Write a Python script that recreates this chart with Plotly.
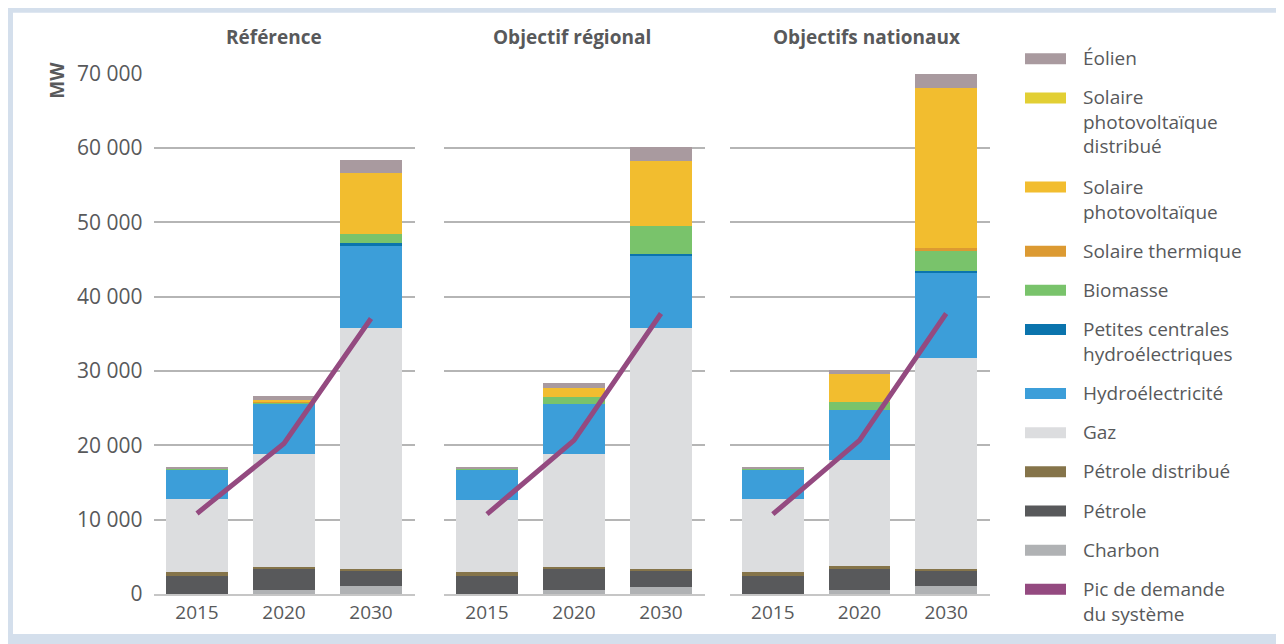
import plotly.graph_objects as go

years = ["2015", "2020", "2030"]
scenarios = ["Référence", "Objectif régional", "Objectifs nationaux"]

# MW par scénario (Référence, Objectif régional, Objectifs nationaux) x années
charbon = [[0, 540, 1075], [0, 540, 940], [0, 540, 1075]]
petrole = [[2420, 2820, 2145], [2420, 2820, 2280], [2420, 2820, 2145]]
petrole_distribue = [[540, 270, 180], [540, 270, 180], [540, 400, 180]]
gaz = [[9810, 15180, 32380], [9670, 15180, 32380], [9810, 14240, 28350]]
hydro = [[4030, 6720, 11110], [4170, 6720, 9670], [4030, 6720, 11420]]
petites_centrales = [[0, 0, 400], [0, 0, 360], [0, 0, 360]]
biomasse = [[130, 270, 1210], [130, 940, 3770], [130, 1080, 2690]]
solaire_thermique = [[0, 150, 0], [0, 0, 0], [0, 0, 360]]
solaire_pv = [[0, 200, 8200], [0, 1210, 8730], [0, 3760, 21500]]
solaire_pv_distribue = [[0, 0, 0], [0, 0, 0], [0, 0, 0]]
eolien = [[140, 450, 1740], [130, 670, 1790], [140, 540, 1880]]
pic_demande = [[10850, 20260, 37080], [10750, 20690, 37750], [10750, 20690, 37750]]

# empilement du bas vers le haut
stack = [
    ("Charbon", charbon, "#b0b2b4"),
    ("Pétrole", petrole, "#58595b"),
    ("Pétrole distribué", petrole_distribue, "#85744a"),
    ("Gaz", gaz, "#dcdddf"),
    ("Hydroélectricité", hydro, "#3c9ed9"),
    ("Petites centrales<br>hydroélectriques", petites_centrales, "#0b74ad"),
    ("Biomasse", biomasse, "#79c36b"),
    ("Solaire thermique", solaire_thermique, "#dc9a32"),
    ("Solaire<br>photovoltaïque", solaire_pv, "#f2bd2f"),
    ("Solaire<br>photovoltaïque<br>distribué", solaire_pv_distribue, "#e2cf34"),
    ("Éolien", eolien, "#a99a9f"),
]
line_name = "Pic de demande<br>du système"
line_color = "#944a80"

# placement dans la page (marge du body de 8 px, capture un peu tassée en hauteur)
OX, OY = 8, 8
SY, AY = 0.9575, 14.5
W, H = 1268, 640
def px(x):
    return (x - OX) / W
def py(y):
    return 1 - ((y - AY) / SY - OY) / H

txt = "#58595b"
font = "Open Sans"
panels = [(153.5, 414.5), (443.5, 704.5), (729.5, 989.5)]
title_x = [274, 572, 866]

fig = go.Figure()
for i, scen in enumerate(scenarios):
    xa = "x" if i == 0 else "x%d" % (i + 1)
    ya = "y" if i == 0 else "y%d" % (i + 1)
    for name, vals, color in stack:
        fig.add_trace(go.Bar(x=years, y=vals[i], name=name, marker=dict(color=color, line=dict(width=0)),
                             xaxis=xa, yaxis=ya, showlegend=False))
    fig.add_trace(go.Scatter(x=years, y=pic_demande[i], mode="lines", name=line_name,
                             line=dict(color=line_color, width=5), xaxis=xa, yaxis=ya, showlegend=False))

layout = dict(
    width=W, height=H, autosize=False,
    margin=dict(l=0, r=0, t=0, b=0),
    paper_bgcolor="#d4dfec", plot_bgcolor="rgba(0,0,0,0)",
    barmode="stack", bargap=0.29,
    separators=", ",
    font=dict(family=font, color=txt, size=19),
    showlegend=False,
)
for i, (x0, x1) in enumerate(panels):
    k = "" if i == 0 else str(i + 1)
    layout["xaxis" + k] = dict(domain=[px(x0), px(x1)], anchor="y" + k, type="category",
                               showline=True, linecolor="#c6c6c6", linewidth=2, ticks="",
                               showgrid=False, ticklabelstandoff=0, tickfont=dict(size=19, color=txt))
    layout["yaxis" + k] = dict(domain=[py(594), py(73)], anchor="x" + k, range=[0, 70000],
                               tickvals=list(range(0, 70001, 10000)), tickformat=",d",
                               showgrid=True, gridcolor="#b5b5b5", gridwidth=1.5, zeroline=False,
                               showticklabels=(i == 0), ticks="", ticklabelstandoff=10,
                               tickfont=dict(size=21, color=txt))
fig.update_layout(**layout)

shapes = [dict(type="rect", xref="paper", yref="paper", x0=px(13), x1=px(1276), y0=py(634), y1=py(12),
               fillcolor="white", line=dict(width=0), layer="below")]
annotations = []

# titres des panneaux
for tx, scen in zip(title_x, scenarios):
    annotations.append(dict(text="<b>%s</b>" % scen, x=px(tx), y=py(36), xref="paper", yref="paper",
                            showarrow=False, font=dict(size=19, color=txt), xanchor="center", yanchor="middle"))
annotations.append(dict(text="<b>MW</b>", x=px(57), y=py(80), xref="paper", yref="paper", textangle=-90,
                        showarrow=False, font=dict(size=19, color=txt), xanchor="center", yanchor="middle"))

# légende
legend_items = [(n, c) for n, _, c in reversed(stack)] + [(line_name, line_color)]
yc = 58
for name, color in legend_items:
    lines = name.count("<br>") + 1
    shapes.append(dict(type="rect", xref="paper", yref="paper", x0=px(1025), x1=px(1066),
                       y0=py(yc + 5.5), y1=py(yc - 5.5), fillcolor=color, line=dict(width=0)))
    annotations.append(dict(text=name, x=px(1081), y=py(yc - 15.5), xref="paper", yref="paper",
                            showarrow=False, align="left", xanchor="left", yanchor="top",
                            font=dict(size=19, color=txt)))
    yc += 39.2 + 25 * (lines - 1)

fig.update_layout(shapes=shapes, annotations=annotations)
fig.write_html("out.html")
